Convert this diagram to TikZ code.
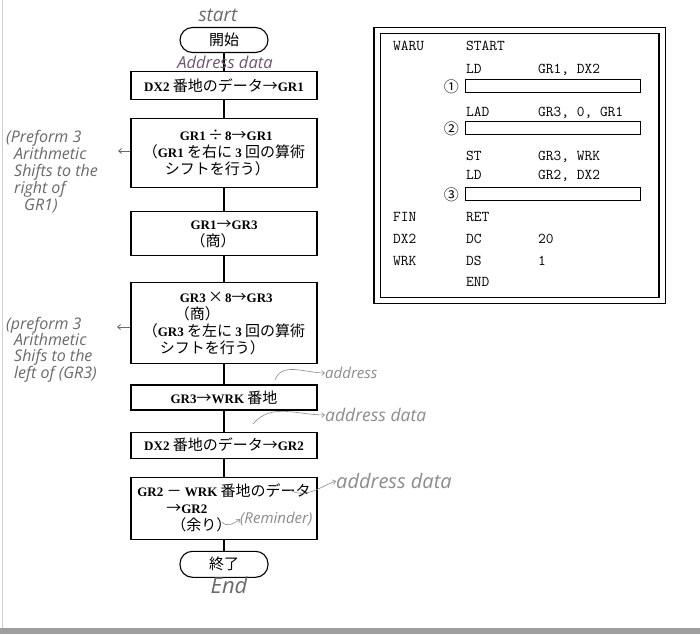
\documentclass[tikz,border=0pt]{standalone}
\usepackage{fontspec}
\setmainfont{Liberation Serif}
\newfontfamily\jpf{Noto Sans CJK JP}
\newfontfamily\handf{Open Sans}
\usetikzlibrary{arrows.meta,positioning}
\definecolor{Pencil}{HTML}{6A6A6A}
\definecolor{LightPencil}{HTML}{8C8C8C}
\definecolor{ScanGray}{HTML}{9E9E9E}
\newcommand{\J}[1]{{\jpf\mdseries\fontsize{15}{17}\selectfont #1}}

\begin{document}
\begin{tikzpicture}[x=1pt,y=-1pt,node distance=18pt,
  box/.style={draw,line width=1.1pt,align=left,inner sep=0pt,minimum width=186pt,font=\fontsize{13}{17}\selectfont\bfseries},
  term/.style={box,rounded corners=12.5pt,minimum width=88pt,minimum height=25pt,align=center},
  hand/.style={text=Pencil,inner sep=0pt,align=left,font=\handf\itshape\fontsize{16}{17}\selectfont},
  handarr/.style={Pencil,line width=0.8pt,-{Straight Barb[length=3pt,width=5pt]}},
  lst/.style={anchor=base west,inner sep=0pt,font=\ttfamily\fontsize{15}{15}\selectfont},
  blank/.style={draw,line width=0.9pt,minimum width=175pt,minimum height=13pt,inner sep=0pt}]
\useasboundingbox (0,0) rectangle (700,634);
\fill[white] (0,0) rectangle (700,634);
\fill[ScanGray] (0,628) rectangle (700,634);
\draw[ScanGray!50,line width=0.8pt] (2,0) -- (2,628);

% flowchart
\node[term] (start) at (224,40) {\J{開始}};
\node[box,minimum height=28pt,below=of start] (b1) {DX2 \J{番地のデータ→}GR1};
\node[box,minimum height=69pt,below=of b1] (b2) {\hspace*{37pt}GR1\,\J{÷}\,8\J{→}GR1\\
  \J{（}GR1 \J{を右に} 3 \J{回の算術}\\
  \hspace*{22pt}\J{シフトを行う）}};
\node[box,minimum height=44pt,below=23pt of b2] (b3) {GR1\J{→}GR3\\\J{（商）}};
\node[box,minimum height=81pt,below=26pt of b3] (b4) {\hspace*{37pt}GR3\,\J{×}\,8\J{→}GR3\\
  \hspace*{32pt}\J{（商）}\\
  \J{（}GR3 \J{を左に} 3 \J{回の算術}\\
  \hspace*{17pt}\J{シフトを行う）}};
\node[box,minimum height=25pt,below=20pt of b4] (b5) {GR3\J{→}WRK \J{番地}};
\node[box,minimum height=26pt,below=21pt of b5] (b6) {DX2 \J{番地のデータ→}GR2};
\node[box,minimum height=62pt,below=of b6] (b7) {GR2 \J{－} WRK \J{番地のデータ}\\
  \hspace*{29pt}\J{→}GR2\\
  \hspace*{34pt}\J{（余り）}};
\node[term,minimum height=26pt,below=11pt of b7] (end) {\J{終了}};
\draw[line width=1.1pt] (start) -- (b1) -- (b2) -- (b3) -- (b4) -- (b5) -- (b6) -- (b7) -- (end);

% program listing
\node[draw,double,double distance=5pt,line width=1.1pt,minimum width=285pt,minimum height=270pt,inner sep=0pt] (prog) at (519.5,165.5) {};
\foreach \yy/\la/\op/\ar [count=\i] in {50.5/WARU/START/, 73.5//LD/{GR1, DX2}, 116.5//LAD/{GR3, 0, GR1},
    160.5//ST/{GR3, WRK}, 179.5//LD/{GR2, DX2}, 221.5/FIN/RET/, 243.5/DX2/DC/20, 265.5/WRK/DS/1, 286.5//END/}{
  \node[lst] (lab\i) at (393,\yy) {\la};
  \node[lst] (op\i) at (466,\yy) {\op};
  \node[lst] (arg\i) at (538,\yy) {\ar};
}
\foreach \yy/\n [count=\i] in {85.5/①, 128/②, 193.5/③}{
  \node[blank,anchor=west] (blank\i) at (465,\yy) {};
  \node[left=6pt of blank\i,inner sep=0pt,font=\jpf\fontsize{15}{15}\selectfont,yshift=-1pt] (num\i) {\n};
}

% handwritten notes
\node[hand,font=\handf\itshape\fontsize{19}{19}\selectfont] (starttxt) at (218,15) {start};
\node[hand,text=Pencil!80!violet,font=\handf\itshape\fontsize{16.5}{17}\selectfont] (addrtop) at (225,62) {Address data};
\node[hand,anchor=north west,font=\handf\itshape\fontsize{16}{17}\selectfont] (note1) at (6,130) {(Preform 3\\
  \hspace*{8pt}Arithmetic\\
  \hspace*{8pt}Shifts to the\\
  \hspace*{8pt}right of\\
  \hspace*{18pt}GR1)};
\node[hand,anchor=north west,font=\handf\itshape\fontsize{16}{16}\selectfont] (note2) at (6,317) {(preform 3\\
  \hspace*{8pt}Arithmetic\\
  \hspace*{8pt}Shifs to the\\
  \hspace*{8pt}left of (GR3)};
\coordinate (a1) at (118,151);
\coordinate (a2) at (117,327);
\draw[handarr] (b2.west |- a1) -- (a1);
\draw[handarr] (b4.west |- a2) -- (a2);

\node[hand,text=LightPencil,anchor=west,font=\handf\itshape\fontsize{15}{15}\selectfont] (addr1) at (325,373) {address};
\node[hand,text=LightPencil,anchor=west,font=\handf\itshape\fontsize{17.5}{17.5}\selectfont] (addr2) at (325,415) {address data};
\node[hand,text=LightPencil,anchor=west,font=\handf\itshape\fontsize{20}{20}\selectfont] (addr3) at (336,481) {address data};
\node[hand,text=LightPencil,anchor=west,font=\handf\itshape\fontsize{15}{15}\selectfont] (rem) at (240,519) {(Reminder)};
\node[hand,font=\handf\itshape\fontsize{22}{22}\selectfont] (endtxt) at (229,585) {End};
\coordinate (c1) at (275,380);
\coordinate (c2) at (253,424);
\coordinate (c3) at (290,490);
\coordinate (c4) at (222,522);
\draw[handarr,LightPencil,line width=0.6pt] (c1) to[out=70,in=180] (addr1.west);
\draw[handarr,LightPencil,line width=0.6pt] (c2) to[out=50,in=180] (addr2.west);
\draw[handarr,LightPencil,line width=0.6pt] (c3) to[out=-30,in=200] (addr3.west);
\draw[handarr,LightPencil,line width=0.6pt] (c4) to[out=-50,in=220] (rem.west);
\end{tikzpicture}
\end{document}
